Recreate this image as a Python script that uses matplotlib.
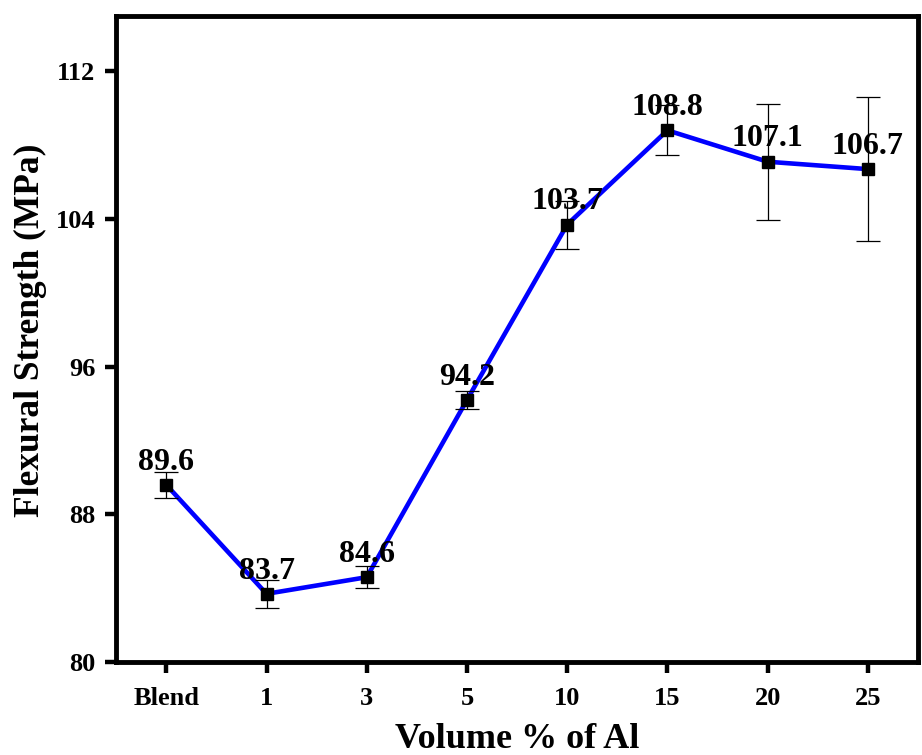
import matplotlib
matplotlib.use("Agg")
import matplotlib.pyplot as plt

plt.rcParams['font.family'] = ['Liberation Serif', 'DejaVu Serif']
plt.rcParams['font.weight'] = 'bold'

# volume fraction of Al and measured flexural strength
categories = ["Blend", "1", "3", "5", "10", "15", "20", "25"]
strength = [89.6, 83.7, 84.6, 94.2, 103.7, 108.8, 107.1, 106.7]
strength_err = [0.7, 0.75, 0.6, 0.5, 1.3, 1.35, 3.15, 3.9]
y_ticks = [80, 88, 96, 104, 112]

fig = plt.figure(figsize=(9.22, 7.55), dpi=100)
ax = fig.add_axes([0.126, 0.123, 0.8697, 0.856])

x = list(range(len(categories)))
ax.plot(x, strength, color='#0000ff', lw=3.3, zorder=2)
ax.errorbar(x, strength, yerr=strength_err, fmt='none', ecolor='black',
            elinewidth=0.9, capsize=8.5, capthick=0.9, zorder=3)
ax.plot(x, strength, ls='none', marker='s', ms=9, color='black', zorder=4)

for xi, v in zip(x, strength):
    ax.annotate(f"{v:.1f}", (xi, v), xytext=(0, 11), textcoords='offset points',
                ha='center', va='baseline', fontsize=23, fontweight='bold', zorder=5)

ax.set_xlim(-0.5, 7.5)
ax.set_ylim(80, 115)
ax.set_xticks(x)
ax.set_xticklabels(categories)
ax.set_yticks(y_ticks)

for s in ax.spines.values():
    s.set_linewidth(3.5)
ax.tick_params(direction='out', length=8, width=3.2, labelsize=19, pad=7)
ax.tick_params(axis='x', pad=10)
for lab in ax.get_xticklabels() + ax.get_yticklabels():
    lab.set_fontweight('bold')

ax.set_xlabel("Volume % of Al", fontsize=26, fontweight='bold', labelpad=9)
ax.set_ylabel("Flexural Strength (MPa)", fontsize=25.5, fontweight='bold')
ax.yaxis.set_label_coords(-0.086, 0.514)

fig.savefig("out.png", dpi=100)
